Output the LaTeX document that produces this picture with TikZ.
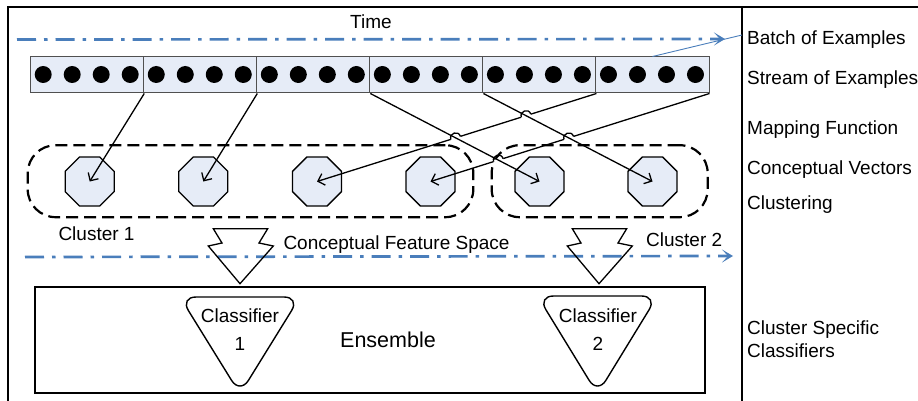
\documentclass[tikz,border=0pt]{standalone}
\usepackage{fontspec}
\setmainfont{Liberation Sans}
\usetikzlibrary{arrows.meta,shapes.geometric,calc}
\definecolor{tblue}{HTML}{4A7EBB}
\definecolor{lfill}{HTML}{E6ECF7}
\definecolor{sgray}{HTML}{505050}
\tikzset{
 lbl/.style={anchor=base west, inner sep=0pt, font=\fontsize{19}{23}\selectfont},
 clbl/.style={anchor=base, inner sep=0pt, font=\fontsize{19}{23}\selectfont},
 seg/.style={draw=sgray, fill=lfill, line width=1pt, minimum width=113.05pt, minimum height=36pt, inner sep=0pt},
 oct/.style={regular polygon, regular polygon sides=8, draw, fill=lfill, line width=1.3pt, minimum size=53pt, inner sep=0pt},
 cluster/.style={draw, line width=2.2pt, dash pattern=on 12pt off 6pt, rounded corners=28pt, minimum height=72pt, inner sep=0pt},
 conn/.style={line width=1.3pt, -{Straight Barb[length=6pt,width=12pt]}},
 timeline/.style={tblue, line width=2.7pt, dash pattern=on 19pt off 8pt on 3.5pt off 8pt, -{Stealth[length=11pt,width=13pt,inset=6pt]}},
 blockarrow/.style={draw, line width=1.3pt, line join=miter},
 clf/.style={draw, line width=1.4pt, rounded corners=16pt},
}
\newcommand{\hopat}[4]{%
  \coordinate (X) at (intersection of #1--#2 and #3--#4);
  \draw[white, line width=3pt] ($(X)!5pt!(#1)$) -- ($(X)!5pt!(#2)$);
  \draw[line width=1.3pt] ($(X)!5pt!(#1)$) to[bend left=90, looseness=1.7] ($(X)!5pt!(#2)$);
}
\begin{document}
\begin{tikzpicture}[x=1pt,y=-1pt]
\useasboundingbox (0,0) rectangle (918,401);
% frame
\draw[line width=2pt] (8,401) -- (8,6.7) -- (918,6.7);
\draw[line width=1.3pt] (742,6.7) -- (742,401);
% time
\node[lbl] (time) at (350,28.3) {Time};
\coordinate (t1s) at (17,39.5);
\coordinate (t1e) at (725,39);
\draw[timeline] (t1s) -- (t1e);
% stream
\foreach \i in {1,...,6} \node[seg] (s\i) at ({30.7+113.05*(\i-0.5)},75) {};
\foreach \i in {0,...,5} \foreach \j in {0,...,3} \fill ({30.7+113.05*\i+12.5+29*\j},74.5) circle (8.5pt);
\coordinate (bt) at (742,35);
\draw[tblue, line width=0.9pt] (s6.north) -- (bt);
\foreach \i in {1,...,6} \coordinate (d\i) at (s\i.south east);
% clusters
\node[cluster, minimum width=445.6pt] (c1) at (250.5,181.2) {};
\node[cluster, minimum width=216pt] (c2) at (599.7,181.2) {};
% octagons
\foreach \x [count=\i] in {89.7,203.3,317,430.5,539.5,652.5} \node[oct] (o\i) at (\x,181.5) {};
% mapping arrows
\draw[conn] (d1) -- (o1.center);
\draw[conn] (d2) -- (o2.center);
\draw[conn] (d5) -- (o3.center);
\draw[conn] (d6) -- (o4.center);
\hopat{o3.center}{d5}{d3}{o5.center}
\hopat{o3.center}{d5}{d4}{o6.center}
\hopat{o4.center}{d6}{d4}{o6.center}
\hopat{o4.center}{d6}{d3}{o5.center}
\draw[conn] (d3) -- (o5.center);
\draw[conn] (d4) -- (o6.center);
% labels
\node[lbl] (cl1) at (58.3,240.7) {Cluster 1};
\node[lbl] (cfs) at (283.3,249) {Conceptual Feature Space};
\node[lbl] (cl2) at (646,246) {Cluster 2};
% bottom timeline
\coordinate (t2s) at (25,257);
\coordinate (t2e) at (733,256);
\draw[timeline] (t2s) -- (t2e);
% block arrows
\draw[blockarrow] (213.3,228.7) -- (222,243) -- (208.3,246) -- (240,283.7) -- (273.3,246) -- (259,243) -- (267.7,228.7) -- cycle;
\draw[blockarrow, xshift=359pt] (213.3,228.7) -- (222,243) -- (208.3,246) -- (240,283.7) -- (273.3,246) -- (259,243) -- (267.7,228.7) -- cycle;
% ensemble
\node[draw, line width=1.4pt, minimum width=670pt, minimum height=106pt, inner sep=0pt] (ens) at (370,340) {};
\node[anchor=base west, inner sep=0pt, font=\fontsize{21.5}{26}\selectfont] (enst) at (340,347.3) {Ensemble};
\draw[clf] (180,297) -- (300,297) -- (240,394) -- cycle;
\draw[clf, xshift=357.5pt] (180,296) -- (300,296) -- (240,394) -- cycle;
\node[clbl] (k1a) at (240,322.3) {Classifier};
\node[clbl] (k1b) at (240,350.7) {1};
\node[clbl] (k2a) at (598,322.7) {Classifier};
\node[clbl] (k2b) at (598,350) {2};
% right labels
\node[lbl] (r1) at (747,44.3) {Batch of Examples};
\node[lbl] (r2) at (747,85) {Stream of Examples};
\node[lbl] (r3) at (747,134.3) {Mapping Function};
\node[lbl] (r4) at (747,174.3) {Conceptual Vectors};
\node[lbl] (r5) at (747,209.3) {Clustering};
\node[lbl] (r6) at (747,334) {Cluster Specific};
\node[lbl] (r7) at (747,357.7) {Classifiers};
\end{tikzpicture}
\end{document}
